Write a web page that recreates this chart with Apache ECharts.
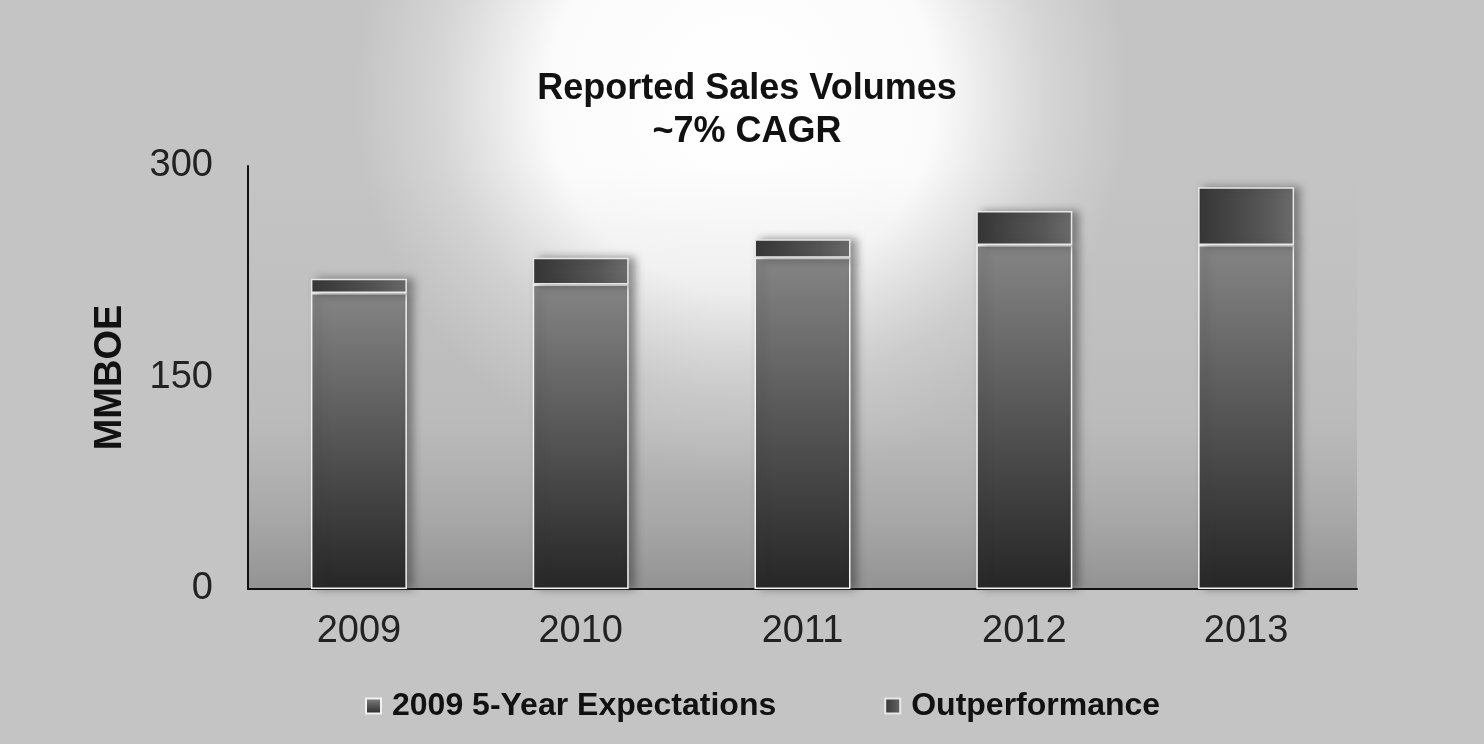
<!DOCTYPE html>
<html>
<head>
<meta charset="utf-8">
<script src="https://cdn.jsdelivr.net/npm/echarts@6/dist/echarts.min.js"></script>
<style>
  html, body { margin: 0; padding: 0; }
  #chart { width: 1484px; height: 744px; }
</style>
</head>
<body>
<div id="chart"></div>
<script>
// Reported sales volumes (MMBOE) by year
const years = ['2009', '2010', '2011', '2012', '2013'];
const expectations = [210, 216, 235, 244, 244];
const outperformance = [10, 19, 13, 24, 41];
const yTicks = [0, 150, 300];

const font = '"Liberation Sans", Arial, sans-serif';

const chart = echarts.init(document.getElementById('chart'));

chart.setOption({
  animation: false,
  backgroundColor: {
    type: 'radial', x: 0.5, y: 0.13, r: 0.52,
    colorStops: [
      { offset: 0, color: '#ffffff' },
      { offset: 0.5, color: '#fbfbfb' },
      { offset: 0.78, color: '#d6d6d6' },
      { offset: 1, color: '#c4c4c4' }
    ]
  },
  title: {
    text: 'Reported Sales Volumes\n~7% CAGR',
    left: 742,
    top: 63,
    textAlign: 'center',
    textStyle: {
      fontFamily: font, fontSize: 36, fontWeight: 'bold',
      color: '#111', lineHeight: 43
    }
  },
  legend: {
    left: 360,
    top: 685,
    itemWidth: 15,
    itemHeight: 15,
    itemGap: 108,
    icon: 'rect',
    textStyle: { fontFamily: font, fontSize: 32, fontWeight: 'bold', color: '#111', padding: [0, 0, 0, 6] },
    data: ['2009 5-Year Expectations', 'Outperformance']
  },
  grid: {
    left: 248, right: 127, top: 166, bottom: 155,
    show: true,
    borderWidth: 0,
    backgroundColor: {
      type: 'linear', x: 0, y: 0, x2: 0, y2: 1,
      colorStops: [
        { offset: 0, color: 'rgba(180,180,180,0)' },
        { offset: 0.6, color: 'rgba(170,170,170,0.35)' },
        { offset: 1, color: 'rgba(130,130,130,0.75)' }
      ]
    }
  },
  xAxis: {
    type: 'category',
    data: years,
    axisLine: { lineStyle: { color: '#111', width: 2 } },
    axisTick: { show: false },
    axisLabel: { fontFamily: font, fontSize: 38, color: '#222', margin: 24 }
  },
  yAxis: {
    type: 'value',
    min: 0, max: 300, interval: 150,
    name: 'MMBOE',
    nameLocation: 'middle',
    nameRotate: 90,
    nameGap: 118,
    nameTextStyle: { fontFamily: font, fontSize: 38, fontWeight: 'bold', color: '#111' },
    axisLine: { show: true, lineStyle: { color: '#111', width: 2 } },
    axisTick: { show: false },
    splitLine: { show: false },
    axisLabel: {
      fontFamily: font, fontSize: 38, color: '#222', margin: 35,
      formatter: v => (yTicks.includes(v) ? String(v) : '')
    }
  },
  series: [
    {
      name: '2009 5-Year Expectations',
      type: 'bar',
      stack: 'vol',
      barWidth: 96,
      data: expectations,
      itemStyle: {
        color: {
          type: 'linear', x: 0, y: 0, x2: 0, y2: 1,
          colorStops: [
            { offset: 0, color: '#858585' },
            { offset: 0.5, color: '#555555' },
            { offset: 1, color: '#262626' }
          ]
        },
        borderColor: '#f2f2f2',
        borderWidth: 1.5,
        shadowColor: 'rgba(60,60,60,0.55)',
        shadowBlur: 8,
        shadowOffsetX: 6
      }
    },
    {
      name: 'Outperformance',
      type: 'bar',
      stack: 'vol',
      barWidth: 96,
      data: outperformance,
      itemStyle: {
        color: {
          type: 'linear', x: 0, y: 0, x2: 1, y2: 0,
          colorStops: [
            { offset: 0, color: '#353535' },
            { offset: 0.7, color: '#575757' },
            { offset: 1, color: '#6c6c6c' }
          ]
        },
        borderColor: '#e8e8e8',
        borderWidth: 1.5,
        shadowColor: 'rgba(60,60,60,0.55)',
        shadowBlur: 8,
        shadowOffsetX: 6
      }
    }
  ]
});
</script>
</body>
</html>
